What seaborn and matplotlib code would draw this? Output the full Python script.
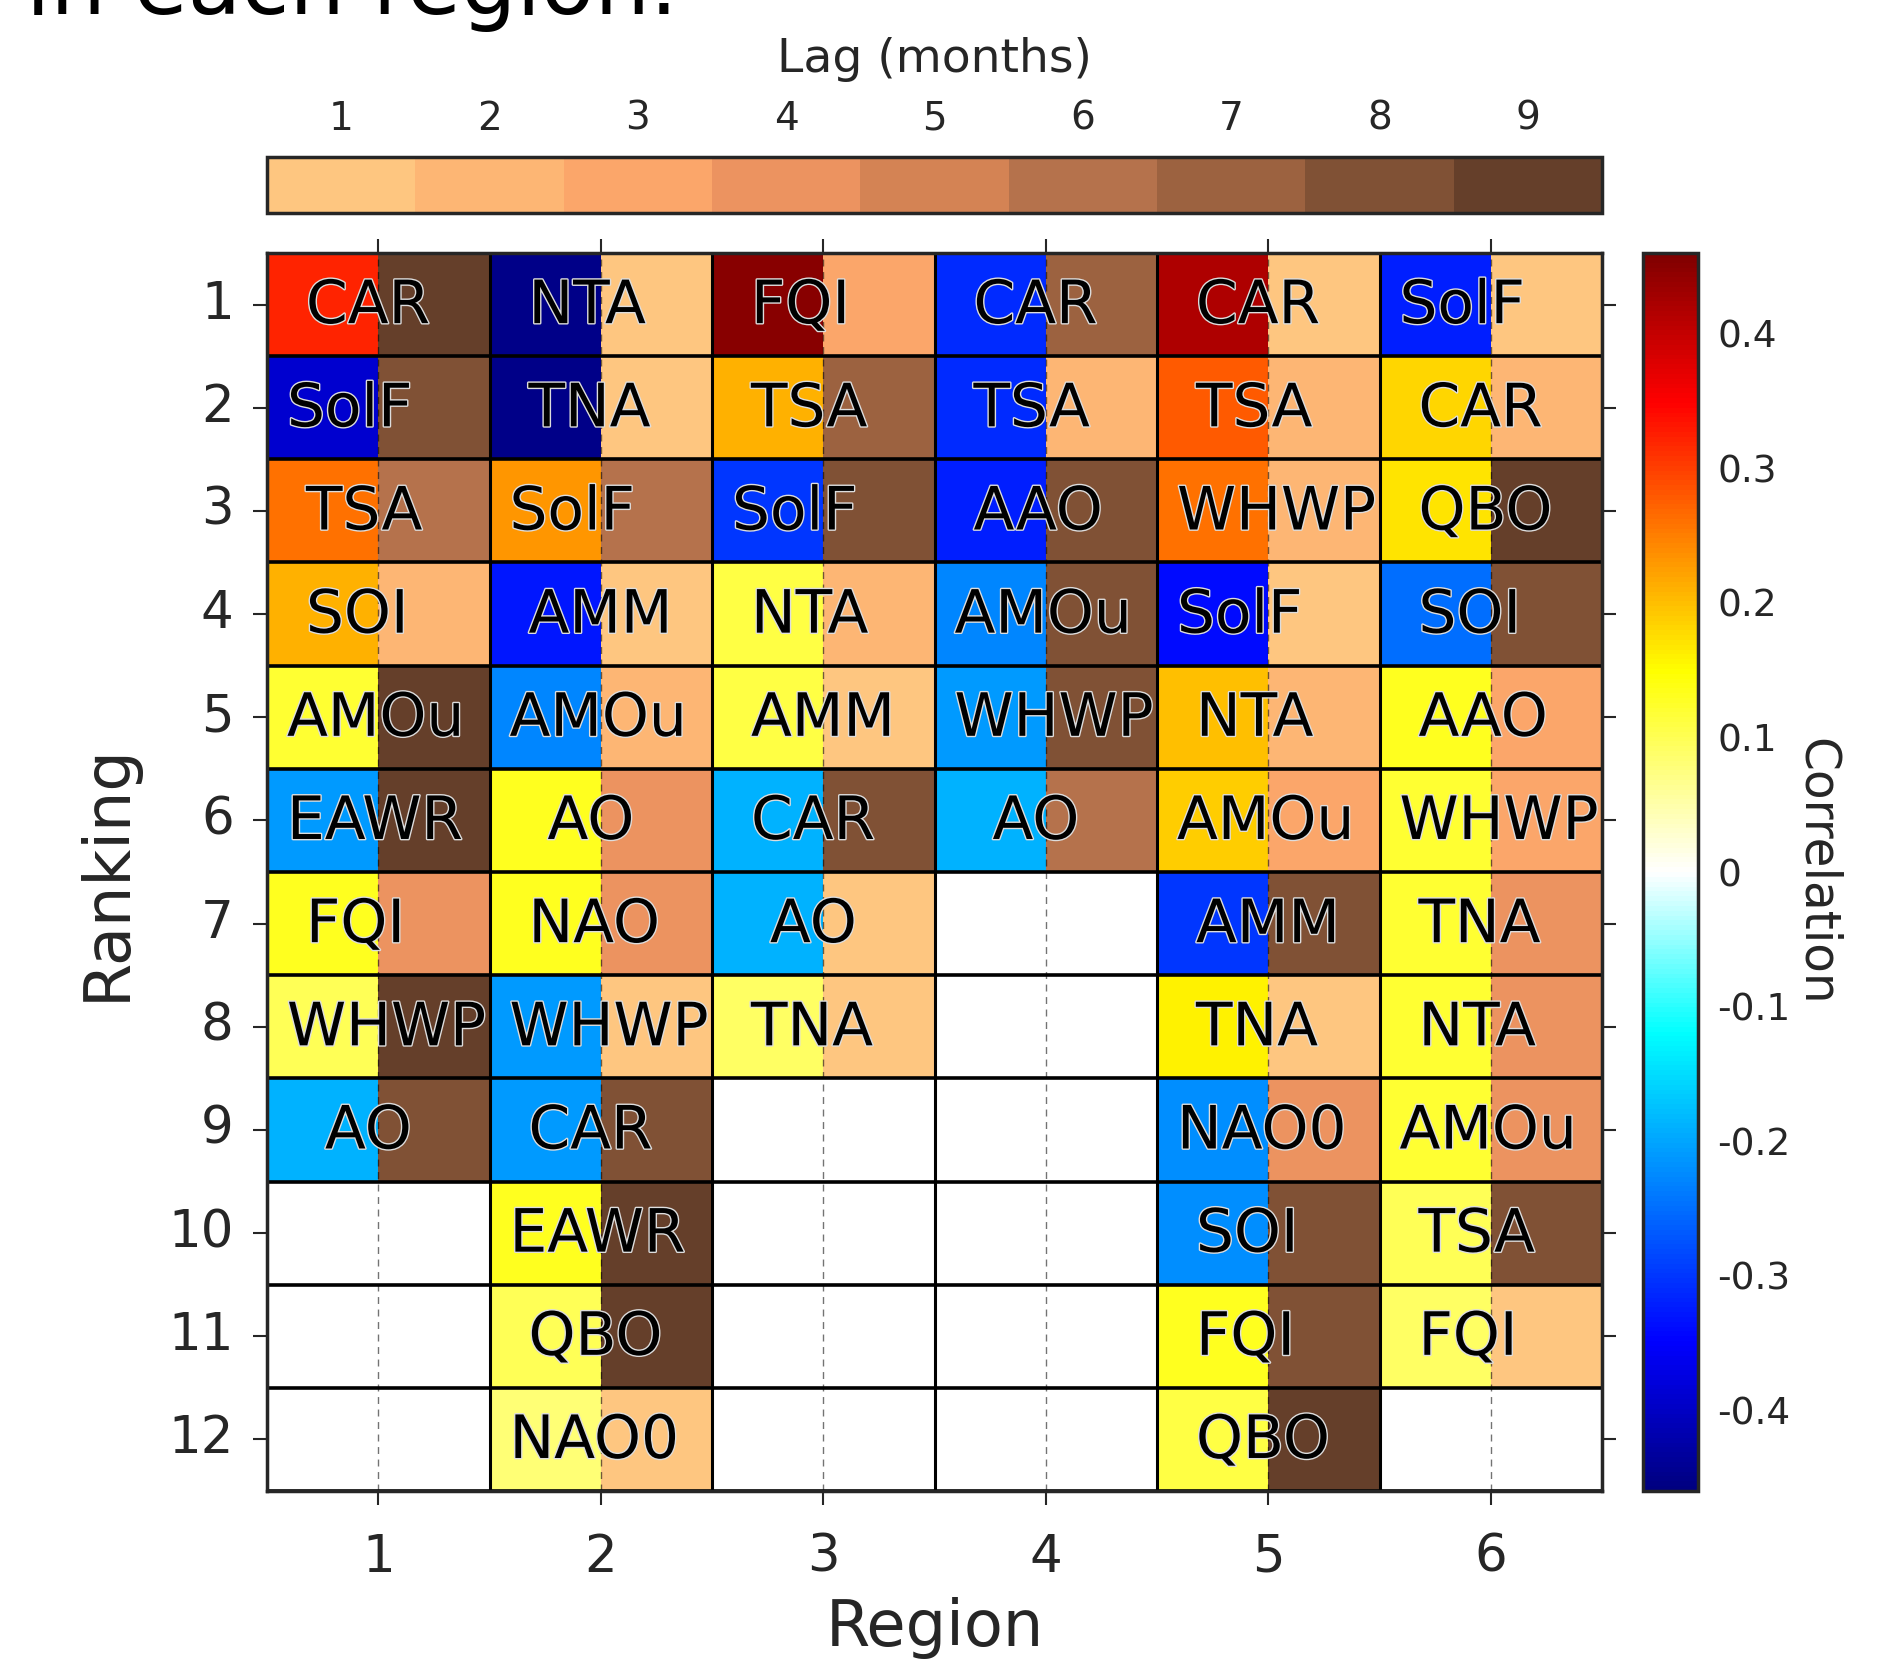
import numpy as np
import pandas as pd
import matplotlib
matplotlib.use('Agg')
import matplotlib.pyplot as plt
import matplotlib.patheffects as pe
from matplotlib.colors import LinearSegmentedColormap, ListedColormap
import seaborn as sns

# ---------------------------------------------------------------
# Data: top climate indices per region (ranking 1 = most important)
# ---------------------------------------------------------------
regions = [1, 2, 3, 4, 5, 6]
rankings = list(range(1, 13))
lags = list(range(1, 10))

r1_names = ['CAR', 'SolF', 'TSA', 'SOI', 'AMOu', 'EAWR', 'FQI', 'WHWP', 'AO']
r1_corr = [0.32, -0.39, 0.26, 0.21, 0.12, -0.21, 0.13, 0.10, -0.19]
r1_lag = [9, 8, 6, 2, 9, 9, 4, 9, 8]

r2_names = ['NTA', 'TNA', 'SolF', 'AMM', 'AMOu', 'AO', 'NAO', 'WHWP', 'CAR',
            'EAWR', 'QBO', 'NAO0']
r2_corr = [-0.45, -0.45, 0.23, -0.33, -0.23, 0.13, 0.13, -0.21, -0.21,
           0.13, 0.10, 0.08]
r2_lag = [1, 1, 6, 1, 2, 4, 4, 1, 8, 9, 9, 1]

r3_names = ['FQI', 'TSA', 'SolF', 'NTA', 'AMM', 'CAR', 'AO', 'TNA']
r3_corr = [0.45, 0.21, -0.30, 0.11, 0.11, -0.19, -0.19, 0.09]
r3_lag = [3, 7, 8, 2, 1, 8, 1, 1]

r4_names = ['CAR', 'TSA', 'AAO', 'AMOu', 'WHWP', 'AO']
r4_corr = [-0.31, -0.31, -0.32, -0.23, -0.21, -0.19]
r4_lag = [7, 2, 8, 8, 8, 6]

r5_names = ['CAR', 'TSA', 'WHWP', 'SolF', 'NTA', 'AMOu', 'AMM', 'TNA',
            'NAO0', 'SOI', 'FQI', 'QBO']
r5_corr = [0.42, 0.28, 0.26, -0.34, 0.20, 0.19, -0.30, 0.16,
           -0.22, -0.22, 0.13, 0.11]
r5_lag = [1, 2, 2, 1, 2, 3, 8, 1, 4, 8, 8, 9]

r6_names = ['SolF', 'CAR', 'QBO', 'SOI', 'AAO', 'WHWP', 'TNA', 'NTA',
            'AMOu', 'TSA', 'FQI']
r6_corr = [-0.32, 0.18, 0.17, -0.25, 0.13, 0.12, 0.12, 0.12,
           0.12, 0.10, 0.09]
r6_lag = [1, 2, 9, 8, 3, 3, 4, 4, 4, 8, 1]

all_names = [r1_names, r2_names, r3_names, r4_names, r5_names, r6_names]
all_corr = [r1_corr, r2_corr, r3_corr, r4_corr, r5_corr, r6_corr]
all_lag = [r1_lag, r2_lag, r3_lag, r4_lag, r5_lag, r6_lag]

# Each region = 2 half-columns: left = correlation, right = lag
n_rank = len(rankings)
corr_mat = np.full((n_rank, 2 * len(regions)), np.nan)
lag_mat = np.full((n_rank, 2 * len(regions)), np.nan)
for i in range(len(regions)):
    for k in range(len(all_names[i])):
        corr_mat[k, 2 * i] = all_corr[i][k]
        lag_mat[k, 2 * i + 1] = all_lag[i][k]
corr_df = pd.DataFrame(corr_mat, index=rankings)
lag_df = pd.DataFrame(lag_mat, index=rankings)

# Colormaps
cmax = 0.46
corr_anchor_vals = [-0.46, -0.35, -0.12, 0.0, 0.15, 0.35, 0.46]
corr_anchor_cols = ['#000080', '#0000ff', '#00ffff', '#ffffff', '#ffff00',
                    '#ff0000', '#800000']
corr_cmap = LinearSegmentedColormap.from_list(
    'corr', [((v + cmax) / (2 * cmax), c)
             for v, c in zip(corr_anchor_vals, corr_anchor_cols)])
lag_colors = ['#fec680', '#fdb674', '#fba66a', '#ec9360', '#d48354',
              '#b5724c', '#9c6240', '#805135', '#653f2a']
lag_cmap = ListedColormap(lag_colors)

# ---------------------------------------------------------------
# Figure
# ---------------------------------------------------------------
sns.set_style('white')
plt.rcParams['font.family'] = ['DejaVu Sans']
dark = '#262626'

fig = plt.figure(figsize=(18.79, 16.60), dpi=100)
W, H = 1879, 1660
ax = fig.add_axes([267 / W, 1 - 1491 / H, (1602 - 267) / W, (1491 - 253) / H])
cax_top = fig.add_axes([267 / W, 1 - 213 / H, (1602 - 267) / W, 56 / H])
cax_right = fig.add_axes([1643 / W, 1 - 1491 / H, 55 / W, (1491 - 253) / H])

sns.heatmap(corr_df, cmap=corr_cmap, vmin=-cmax, vmax=cmax, ax=ax,
            cbar_ax=cax_right)
sns.heatmap(lag_df, cmap=lag_cmap, vmin=0.5, vmax=9.5, ax=ax,
            cbar_ax=cax_top, cbar_kws={'orientation': 'horizontal'})
cbr = ax.collections[0].colorbar
cbt = ax.collections[1].colorbar

# grid lines
for y in range(n_rank + 1):
    ax.axhline(y, color='black', lw=2.6, zorder=3)
for x in range(0, 2 * len(regions) + 1, 2):
    ax.axvline(x, color='black', lw=2.2, zorder=3)
for x in range(1, 2 * len(regions), 2):
    ax.axvline(x, color='black', lw=1.0, ls=(0, (5, 4)), alpha=0.55, zorder=3)

# cell labels: padded to 4 characters, left aligned in the cell
for i in range(len(regions)):
    for k, name in enumerate(all_names[i]):
        ax.text(2 * i + 0.18, k + 0.52, name.rjust(4), ha='left', va='center',
                fontsize=43, color='black', zorder=4,
                path_effects=[pe.withStroke(linewidth=2, foreground='#dddddd')])

# main axes ticks & labels
ax.set_xticks([2 * i + 1 for i in range(len(regions))])
ax.set_xticklabels([str(r) for r in regions], rotation=0)
ax.set_yticks([k + 0.5 for k in range(n_rank)])
ax.set_yticklabels([str(r) for r in rankings], rotation=0)
ax.tick_params(axis='both', which='major', direction='out', length=10,
               width=1.5, color=dark, labelcolor=dark, labelsize=37)
ax.tick_params(axis='x', top=True, bottom=True, labeltop=False, pad=20)
ax.tick_params(axis='y', left=True, right=True, labelright=False, pad=14)
ax.set_xlabel('Region', fontsize=46, color=dark, labelpad=10)
ax.set_ylabel('Ranking', fontsize=46, color=dark, labelpad=22)
for s in ax.spines.values():
    s.set_visible(True)
    s.set_color(dark)
    s.set_linewidth(2.5)
    s.set_zorder(5)

# top colorbar (lag)
cbt.set_ticks(lags)
cbt.set_ticklabels([str(l) for l in lags])
cax_top.xaxis.set_ticks_position('top')
cax_top.xaxis.set_label_position('top')
cax_top.tick_params(axis='x', direction='in', length=14, width=1.5,
                    color=dark, labelcolor=dark, labelsize=28, pad=14)
cax_top.set_xlabel('Lag (months)', fontsize=34, color=dark, labelpad=20)
cbt.outline.set_visible(True)
cbt.outline.set_linewidth(2.5)
cbt.outline.set_edgecolor(dark)

# right colorbar (correlation)
cbr.set_ticks([-0.4, -0.3, -0.2, -0.1, 0, 0.1, 0.2, 0.3, 0.4])
cbr.set_ticklabels(['-0.4', '-0.3', '-0.2', '-0.1', '0', '0.1', '0.2', '0.3', '0.4'])
cax_right.tick_params(axis='y', direction='in', length=10, width=1.5,
                      color=dark, labelcolor=dark, labelsize=27, pad=14)
cbr.set_label('Correlation', fontsize=35, color=dark, rotation=270, labelpad=36)
cbr.outline.set_visible(True)
cbr.outline.set_linewidth(2.5)
cbr.outline.set_edgecolor(dark)

# title, cut off at top of figure as in the source
fig.text(0.014, 1 - 14 / H, 'in each region.', fontsize=63, color='black',
         ha='left', va='baseline')

fig.savefig('out.png', dpi=100)
